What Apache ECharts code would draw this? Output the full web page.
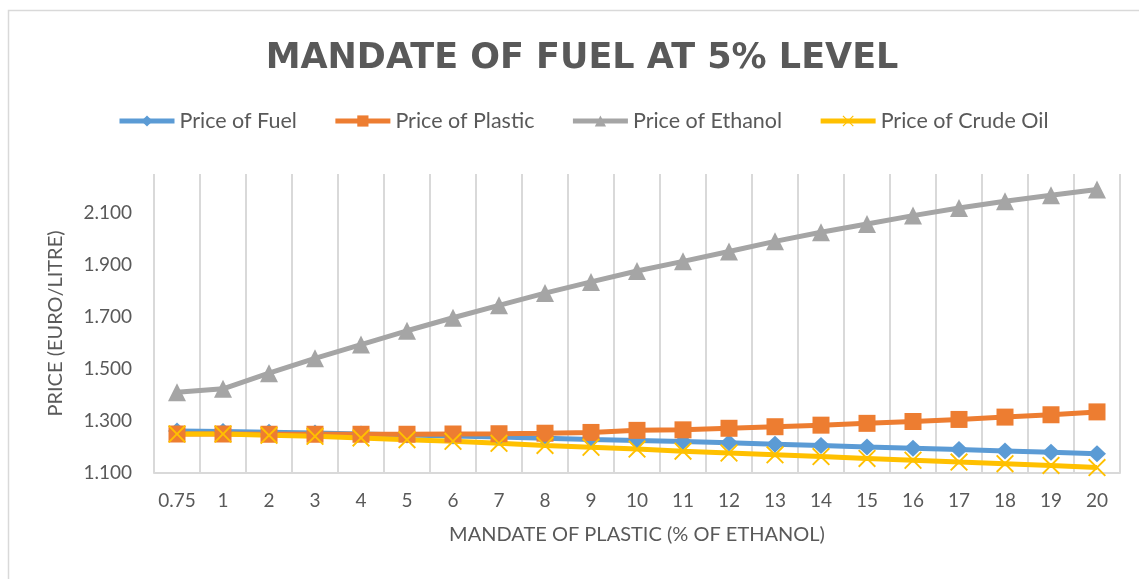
<!DOCTYPE html>
<html>
<head>
<meta charset="utf-8">
<script src="https://cdn.jsdelivr.net/npm/echarts@6/dist/echarts.min.js"></script>
<style>
html,body{margin:0;padding:0;background:#fff;}
#chart{width:1139px;height:579px;}
</style>
</head>
<body>
<div id="chart"></div>
<script>
const categories = ['0.75','1','2','3','4','5','6','7','8','9','10','11','12','13','14','15','16','17','18','19','20'];
const priceFuel = [1.262,1.260,1.257,1.254,1.250,1.246,1.242,1.238,1.234,1.229,1.225,1.221,1.216,1.211,1.206,1.200,1.195,1.190,1.185,1.180,1.174];
const pricePlastic = [1.250,1.250,1.249,1.249,1.249,1.249,1.250,1.251,1.253,1.256,1.264,1.266,1.272,1.278,1.284,1.291,1.298,1.306,1.315,1.324,1.335];
const priceEthanol = [1.411,1.424,1.484,1.541,1.594,1.647,1.697,1.745,1.792,1.835,1.877,1.914,1.952,1.991,2.026,2.058,2.090,2.119,2.145,2.168,2.190];
const priceCrude = [1.250,1.250,1.245,1.241,1.235,1.228,1.222,1.214,1.206,1.199,1.192,1.184,1.177,1.170,1.163,1.156,1.149,1.142,1.136,1.129,1.121];
const seriesNames = ['Price of Fuel','Price of Plastic','Price of Ethanol','Price of Crude Oil'];

const FONT = 'Lato';
const TXT = '#595959';
const GRIDC = '#d9d9d9';
const xPath = 'path://M0,1.5 L1.5,0 L10,8.5 L18.5,0 L20,1.5 L11.5,10 L20,18.5 L18.5,20 L10,11.5 L1.5,20 L0,18.5 L8.5,10 Z';

function mkSeries(name, data, color, symbol, size) {
  return {
    name: name, type: 'line', data: data,
    symbol: symbol, symbolSize: size, showSymbol: true,
    lineStyle: {color: color, width: 5},
    itemStyle: {color: color},
    emphasis: {disabled: true},
    animation: false
  };
}

const chart = echarts.init(document.getElementById('chart'), null, {renderer: 'canvas'});
chart.setOption({
  backgroundColor: '#fff',
  animation: false,
  graphic: [{
    type: 'rect', left: 6, top: 8, z: -10,
    shape: {x: 0, y: 0, width: 1200, height: 700},
    style: {fill: 'none', stroke: GRIDC, lineWidth: 1.5}
  }],
  title: {
    text: 'MANDATE OF FUEL AT 5% LEVEL',
    left: 577, textAlign: 'center', top: 36,
    textStyle: {fontFamily: 'DejaVu Sans', fontWeight: 'bold', fontSize: 35, color: TXT}
  },
  legend: {
    data: seriesNames,
    left: 112, top: 105,
    itemWidth: 55, itemHeight: 14, itemGap: 36,
    lineStyle: {width: 5},
    textStyle: {fontFamily: FONT, fontSize: 21.5, color: TXT}
  },
  grid: {left: 154, right: 19, top: 174, bottom: 106, containLabel: false},
  xAxis: {
    type: 'category', data: categories, boundaryGap: true,
    name: 'MANDATE OF PLASTIC (% OF ETHANOL)', nameLocation: 'middle', nameGap: 52,
    nameTextStyle: {fontFamily: FONT, fontSize: 20, color: TXT},
    axisLine: {show: true, lineStyle: {color: GRIDC, width: 2}},
    axisTick: {show: false},
    axisLabel: {fontFamily: FONT, fontSize: 19, color: TXT, margin: 18, interval: 0},
    splitLine: {show: true, interval: 0, lineStyle: {color: GRIDC, width: 2}}
  },
  yAxis: {
    type: 'value', min: 1.1, max: 2.25, interval: 0.2,
    name: 'PRICE (EURO/LITRE)', nameLocation: 'middle', nameGap: 88, nameRotate: 90,
    nameTextStyle: {fontFamily: FONT, fontSize: 20, color: TXT},
    axisLine: {show: false}, axisTick: {show: false},
    splitLine: {show: false},
    axisLabel: {fontFamily: FONT, fontSize: 19, color: TXT, margin: 22, showMaxLabel: false,
      formatter: function (v) { return v.toFixed(3); }}
  },
  series: [
    mkSeries(seriesNames[0], priceFuel, '#5B9BD5', 'diamond', [18, 17]),
    mkSeries(seriesNames[1], pricePlastic, '#ED7D31', 'rect', 17),
    mkSeries(seriesNames[2], priceEthanol, '#A5A5A5', 'triangle', 18),
    mkSeries(seriesNames[3], priceCrude, '#FFC000', xPath, 18)
  ]
});
</script>
</body>
</html>
